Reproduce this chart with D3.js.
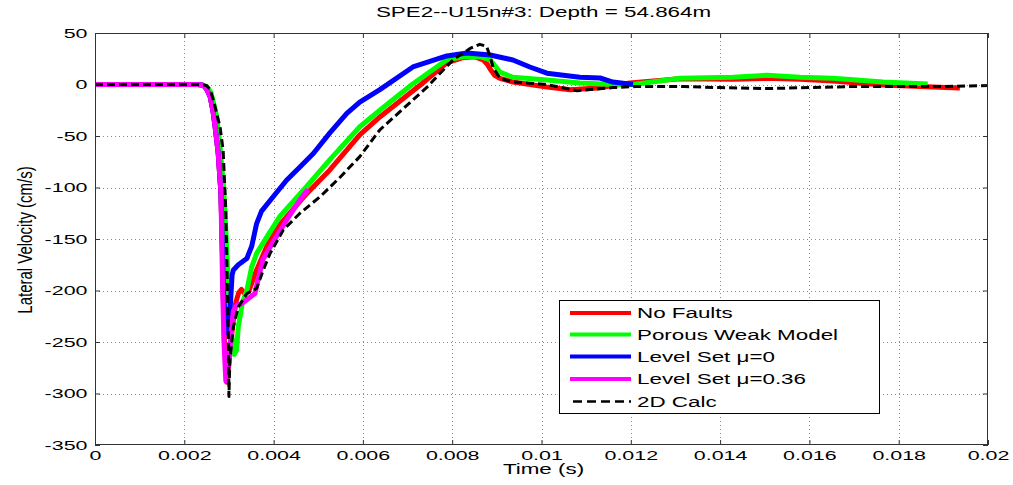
<!DOCTYPE html>
<html>
<head>
<meta charset="utf-8">
<script src="https://cdn.jsdelivr.net/npm/d3@7"></script>
<style>
  html, body { margin: 0; padding: 0; background: #fff; }
  svg { display: block; }
  text { font-family: "Liberation Sans", Arial, Helvetica, sans-serif; fill: #000; }
</style>
</head>
<body>
<svg id="chart" width="1013" height="485"></svg>
<script>
// ---------- data ----------
const titleText = "SPE2--U15n#3: Depth = 54.864m";
const xLabel = "Time (s)";
const yLabel = "Lateral Velocity (cm/s)";
const xTicks = [0, 0.002, 0.004, 0.006, 0.008, 0.01, 0.012, 0.014, 0.016, 0.018, 0.02];
const xTickLabels = ["0", "0.002", "0.004", "0.006", "0.008", "0.01", "0.012", "0.014", "0.016", "0.018", "0.02"];
const yTicks = [-350, -300, -250, -200, -150, -100, -50, 0, 50];
const yTickLabels = ["-350", "-300", "-250", "-200", "-150", "-100", "-50", "0", "50"];
const seriesNames = ["No Faults", "Porous Weak Model", "Level Set \u03bc=0", "Level Set \u03bc=0.36", "2D Calc"];

// [time (s), lateral velocity (cm/s)]
const noFaults = [[0,0],[0.0023,0],[0.0024,-0.5],[0.00246,-2],[0.00252,-6],[0.00258,-12],[0.00264,-25],[0.00269,-41],[0.00276,-67],[0.00282,-105],[0.00285,-154],[0.00287,-202],[0.0029,-251],[0.00295,-289],[0.00302,-262],[0.00308,-235],[0.00315,-212],[0.00322,-202],[0.00328,-199],[0.00335,-203],[0.00345,-200],[0.00362,-180],[0.00385,-157],[0.00414,-136],[0.00474,-106],[0.00526,-83],[0.00593,-49],[0.00638,-31.5],[0.0073,0],[0.00788,21],[0.00824,26],[0.0085,27],[0.00869,24],[0.00878,20],[0.00885,15],[0.00895,9],[0.00907,6],[0.00936,2.4],[0.01012,-2.4],[0.01064,-5],[0.01124,-3.4],[0.01198,1.5],[0.0131,5.5],[0.01429,5],[0.01505,6],[0.01579,5],[0.01653,3.4],[0.01765,-0.5],[0.01877,-2.4],[0.01937,-3.4]];
const porousWeak = [[0,0],[0.0023,0],[0.0025,-2],[0.0026,-8],[0.00272,-30],[0.0028,-60],[0.00288,-100],[0.00294,-150],[0.00299,-200],[0.00305,-240],[0.00312,-262],[0.00317,-258],[0.00321,-235],[0.0033,-212],[0.0034,-200],[0.00351,-177],[0.00362,-164],[0.00385,-148],[0.00414,-128],[0.00474,-99],[0.00526,-73],[0.00593,-41],[0.00638,-25],[0.0071,0],[0.00788,24],[0.00824,27],[0.00862,27],[0.00885,24],[0.00898,17],[0.00907,12],[0.00936,7],[0.01012,4.4],[0.01086,1.5],[0.0116,0],[0.01205,0],[0.0131,6],[0.01429,7],[0.01505,9],[0.01579,7],[0.01653,6],[0.01765,2.4],[0.01865,0.5]];
const levelSet0 = [[0,0],[0.0023,0],[0.0024,-0.5],[0.00246,-2],[0.00252,-6],[0.00258,-12],[0.00264,-25],[0.00269,-41],[0.00276,-67],[0.00282,-105],[0.00285,-154],[0.00288,-202],[0.00293,-235],[0.00299,-242],[0.00303,-215],[0.00307,-185],[0.0031,-180],[0.00321,-175],[0.0034,-169],[0.00351,-157],[0.00362,-135],[0.00373,-123],[0.00399,-109],[0.00429,-93],[0.00459,-80],[0.00489,-67],[0.00526,-47],[0.00564,-28],[0.00593,-17],[0.00638,-5],[0.00712,17],[0.00788,27.7],[0.00833,30.6],[0.00885,28.6],[0.00936,23.8],[0.00974,17],[0.01012,11],[0.01086,7],[0.01131,6.3],[0.0116,2.4],[0.01205,0]];
const levelSet036 = [[0,0],[0.0023,0],[0.0024,-0.5],[0.00246,-2],[0.00252,-6],[0.00258,-12],[0.00264,-25],[0.00269,-41],[0.00276,-67],[0.00282,-105],[0.00284,-154],[0.00286,-202],[0.00289,-251],[0.00293,-288],[0.003,-270],[0.00305,-240],[0.0031,-220],[0.00318,-214],[0.00328,-213],[0.0034,-209],[0.00358,-203],[0.00365,-190],[0.00376,-170],[0.00399,-153],[0.0043,-131],[0.00459,-112],[0.00477,-102]];
const calc2D = [[0,0],[0.0023,0],[0.0025,-1],[0.00258,-5],[0.00265,-15],[0.0028,-41],[0.00287,-64],[0.00293,-122],[0.00296,-187],[0.00299,-251],[0.003,-303],[0.00302,-267],[0.0031,-235],[0.00321,-216],[0.0034,-203],[0.00362,-198],[0.00377,-180],[0.00392,-164],[0.00422,-141],[0.00459,-125],[0.00504,-109],[0.00549,-90],[0.00593,-70],[0.00638,-44],[0.00712,-15],[0.00745,-2],[0.00773,11],[0.00802,24],[0.0084,35],[0.00862,39],[0.00877,37],[0.00885,27],[0.00892,16],[0.00907,6],[0.00936,2.4],[0.01012,0],[0.0108,-6],[0.0116,-3],[0.0121,-2],[0.0132,-2],[0.014,-3],[0.015,-4],[0.016,-3],[0.0169,-2],[0.018,-2],[0.019,-2],[0.02,-1]];

const seriesData = [noFaults, porousWeak, levelSet0, levelSet036, calc2D];
const seriesColors = ["#ff0000", "#00ff00", "#0000ff", "#ff00ff", "#000000"];

// ---------- layout ----------
const L = 95, R = 988, T = 33, B = 445;
const SX = 1.65; // horizontal text stretch of the original picture
const svg = d3.select("#chart");
const x = d3.scaleLinear().domain([0, 0.02]).range([L, R]);
const y = d3.scaleLinear().domain([-350, 50]).range([B, T]);

svg.append("rect").attr("width", 1013).attr("height", 485).attr("fill", "#fff");

// grid
const grid = svg.append("g").attr("stroke", "#8a8a8a").attr("stroke-width", 1).attr("stroke-dasharray", "1,3");
grid.selectAll(".gx").data(xTicks.slice(1, -1)).join("line")
  .attr("x1", d => Math.round(x(d)) + 0.5).attr("x2", d => Math.round(x(d)) + 0.5)
  .attr("y1", T).attr("y2", B);
grid.selectAll(".gy").data(yTicks.slice(1, -1)).join("line")
  .attr("y1", d => Math.round(y(d)) + 0.5).attr("y2", d => Math.round(y(d)) + 0.5)
  .attr("x1", L).attr("x2", R);

// lines
const clip = svg.append("clipPath").attr("id", "clip").append("rect")
  .attr("x", L).attr("y", T).attr("width", R - L).attr("height", B - T);
const line = d3.line().x(d => x(d[0])).y(d => y(d[1])).curve(d3.curveLinear);
const plot = svg.append("g").attr("clip-path", "url(#clip)");
seriesData.forEach((data, i) => {
  const p = plot.append("path").datum(data).attr("d", line)
    .attr("fill", "none").attr("stroke", seriesColors[i])
    .attr("stroke-linejoin", "round").attr("stroke-linecap", "butt");
  if (i === 4) p.attr("stroke-width", 3).attr("stroke-dasharray", "8,4");
  else p.attr("stroke-width", 5);
});

// axes
const axColor = "#333";
function styleAxis(g) {
  g.select(".domain").remove();
  g.selectAll(".tick line").attr("stroke", axColor);
}
const xAxisB = svg.append("g").attr("transform", `translate(0,${B})`)
  .call(d3.axisBottom(x).tickValues(xTicks).tickFormat((d, i) => xTickLabels[i]).tickSizeInner(-5).tickSizeOuter(0).tickPadding(5.3));
styleAxis(xAxisB);
xAxisB.selectAll(".tick text").attr("font-size", 13).attr("fill", "#000")
  .attr("font-family", '"Liberation Sans", Arial, sans-serif')
  .attr("transform", `scale(${SX},1)`);

const xAxisT = svg.append("g").attr("transform", `translate(0,${T})`)
  .call(d3.axisTop(x).tickValues(xTicks).tickFormat("").tickSizeInner(-5).tickSizeOuter(0));
styleAxis(xAxisT);

const yAxisL = svg.append("g").attr("transform", `translate(${L},0)`)
  .call(d3.axisLeft(y).tickValues(yTicks).tickFormat((d, i) => yTickLabels[i]).tickSizeInner(-5).tickSizeOuter(0));
styleAxis(yAxisL);
yAxisL.selectAll(".tick text").attr("font-size", 13).attr("fill", "#000")
  .attr("font-family", '"Liberation Sans", Arial, sans-serif')
  .attr("x", 0).attr("transform", `translate(-7.5,0) scale(${SX},1)`);

const yAxisR = svg.append("g").attr("transform", `translate(${R},0)`)
  .call(d3.axisRight(y).tickValues(yTicks).tickFormat("").tickSizeInner(-5).tickSizeOuter(0));
styleAxis(yAxisR);

// box
svg.append("rect").attr("x", L + 0.5).attr("y", T + 0.5).attr("width", R - L - 1).attr("height", B - T - 1)
  .attr("fill", "none").attr("stroke", axColor).attr("stroke-width", 1);

// texts
function stretchedText(px, py, str, size, anchor, sx) {
  return svg.append("text").attr("transform", `translate(${px},${py}) scale(${sx},1)`)
    .attr("text-anchor", anchor).attr("font-size", size).text(str);
}
stretchedText((L + R) / 2 + 2, 17, titleText, 14, "middle", 1.6);
stretchedText((L + R) / 2 + 2, 474, xLabel, 14, "middle", 1.6);
svg.append("text").attr("transform", `translate(32,240) scale(1.3,1) rotate(-90)`)
  .attr("text-anchor", "middle").attr("font-size", 15).text(yLabel);

// legend
const lg = svg.append("g");
lg.append("rect").attr("x", 559.5).attr("y", 300.5).attr("width", 320).attr("height", 113)
  .attr("fill", "#fff").attr("stroke", "#000").attr("stroke-width", 1);
const rowY = [313, 334.5, 356.5, 379, 401.5];
seriesNames.forEach((name, i) => {
  const ln = lg.append("line").attr("x1", i === 4 ? 573 : 570).attr("x2", 631)
    .attr("y1", rowY[i]).attr("y2", rowY[i]).attr("stroke", seriesColors[i]);
  if (i === 4) ln.attr("stroke-width", 2.5).attr("stroke-dasharray", "9,5");
  else ln.attr("stroke-width", 4);
  lg.append("text").attr("transform", `translate(637,${rowY[i] + 5}) scale(1.6,1)`)
    .attr("font-size", 14).text(name);
});
</script>
</body>
</html>
